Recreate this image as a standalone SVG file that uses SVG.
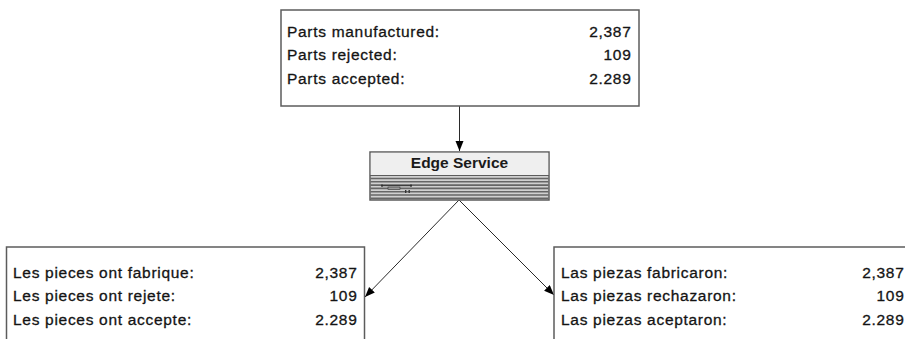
<svg xmlns="http://www.w3.org/2000/svg" width="905" height="339" viewBox="0 0 905 339">
  <style>
    .box { fill: #ffffff; stroke: #5c5c5c; stroke-width: 1.5; }
    .lbl, .num { font-family: "Liberation Sans", Arial, sans-serif; font-size: 15.5px; letter-spacing: 0.7px; fill: #141414; stroke: #141414; stroke-width: 0.3; }
    .num { text-anchor: end; }
    .title { font-family: "Liberation Sans", Arial, sans-serif; font-size: 15.5px; font-weight: bold; fill: #1a1a1a; text-anchor: middle; }
    .conn { fill: none; stroke: #2a2a2a; stroke-width: 1; }
    .stripe { stroke: #666666; stroke-width: 1.6; }
  </style>
  <defs>
    <marker id="arrow" markerUnits="userSpaceOnUse" markerWidth="12" markerHeight="10" refX="10" refY="4" orient="auto">
      <path d="M0,0 L10,4 L0,8 Z" fill="#000000"/>
    </marker>
  </defs>

  <rect width="905" height="339" fill="#ffffff"/>

  <!-- connectors -->
  <g id="connectors">
    <line class="conn" x1="459.5" y1="106" x2="459.5" y2="151" marker-end="url(#arrow)"/>
    <line class="conn" x1="459" y1="200" x2="365" y2="297" marker-end="url(#arrow)"/>
    <line class="conn" x1="459" y1="200" x2="554" y2="295" marker-end="url(#arrow)"/>
  </g>

  <!-- source counts -->
  <g id="node-parts">
    <rect class="box" x="281" y="10" width="358" height="96"/>
    <text class="lbl" x="287" y="36.5">Parts manufactured:</text>
    <text class="lbl" x="287" y="60">Parts rejected:</text>
    <text class="lbl" x="287" y="83.5">Parts accepted:</text>
    <text class="num" x="631.5" y="36.5">2,387</text>
    <text class="num" x="631.5" y="60">109</text>
    <text class="num" x="631.5" y="83.5">2.289</text>
  </g>

  <!-- translation service -->
  <g id="node-edge-service">
    <rect x="370" y="152" width="179" height="48" fill="#d0d0d0" stroke="#5c5c5c" stroke-width="1.5"/>
    <rect x="370.75" y="152.75" width="177.5" height="22.5" fill="#efefef"/>
    <line x1="370" y1="175.5" x2="549" y2="175.5" stroke="#5c5c5c" stroke-width="1.2"/>
    <g class="stripe">
      <line x1="370.5" y1="178.5" x2="548.5" y2="178.5"/>
      <line x1="370.5" y1="181.8" x2="548.5" y2="181.8"/>
      <line x1="370.5" y1="185.1" x2="548.5" y2="185.1"/>
      <line x1="370.5" y1="188.4" x2="548.5" y2="188.4"/>
      <line x1="370.5" y1="191.7" x2="548.5" y2="191.7"/>
      <line x1="370.5" y1="195" x2="548.5" y2="195"/>
      <line x1="370.5" y1="198.2" x2="548.5" y2="198.2"/>
    </g>
    <g fill="#333333">
      <rect x="381.5" y="185.2" width="30" height="1"/>
      <rect x="381" y="184.6" width="2" height="2"/>
      <rect x="410" y="184.6" width="2" height="2"/>
      <rect x="388" y="187" width="12" height="2.4" fill="#9a9a9a" stroke="#333333" stroke-width="0.6"/>
      <rect x="405" y="190" width="1.4" height="3"/>
      <rect x="408.5" y="190" width="1.4" height="3"/>
    </g>
    <text class="title" x="459.5" y="168">Edge Service</text>
  </g>

  <!-- French output -->
  <g id="node-french">
    <rect class="box" x="6.5" y="247" width="358" height="100"/>
    <text class="lbl" x="13" y="277.5">Les pieces ont fabrique:</text>
    <text class="lbl" x="13" y="301">Les pieces ont rejete:</text>
    <text class="lbl" x="13" y="324.5">Les pieces ont accepte:</text>
    <text class="num" x="357.5" y="277.5">2,387</text>
    <text class="num" x="357.5" y="301">109</text>
    <text class="num" x="357.5" y="324.5">2.289</text>
  </g>

  <!-- Spanish output -->
  <g id="node-spanish">
    <rect class="box" x="554" y="247" width="358" height="100"/>
    <text class="lbl" x="561" y="277.5">Las piezas fabricaron:</text>
    <text class="lbl" x="561" y="301">Las piezas rechazaron:</text>
    <text class="lbl" x="561" y="324.5">Las piezas aceptaron:</text>
    <text class="num" x="904.5" y="277.5">2,387</text>
    <text class="num" x="904.5" y="301">109</text>
    <text class="num" x="904.5" y="324.5">2.289</text>
  </g>
</svg>
